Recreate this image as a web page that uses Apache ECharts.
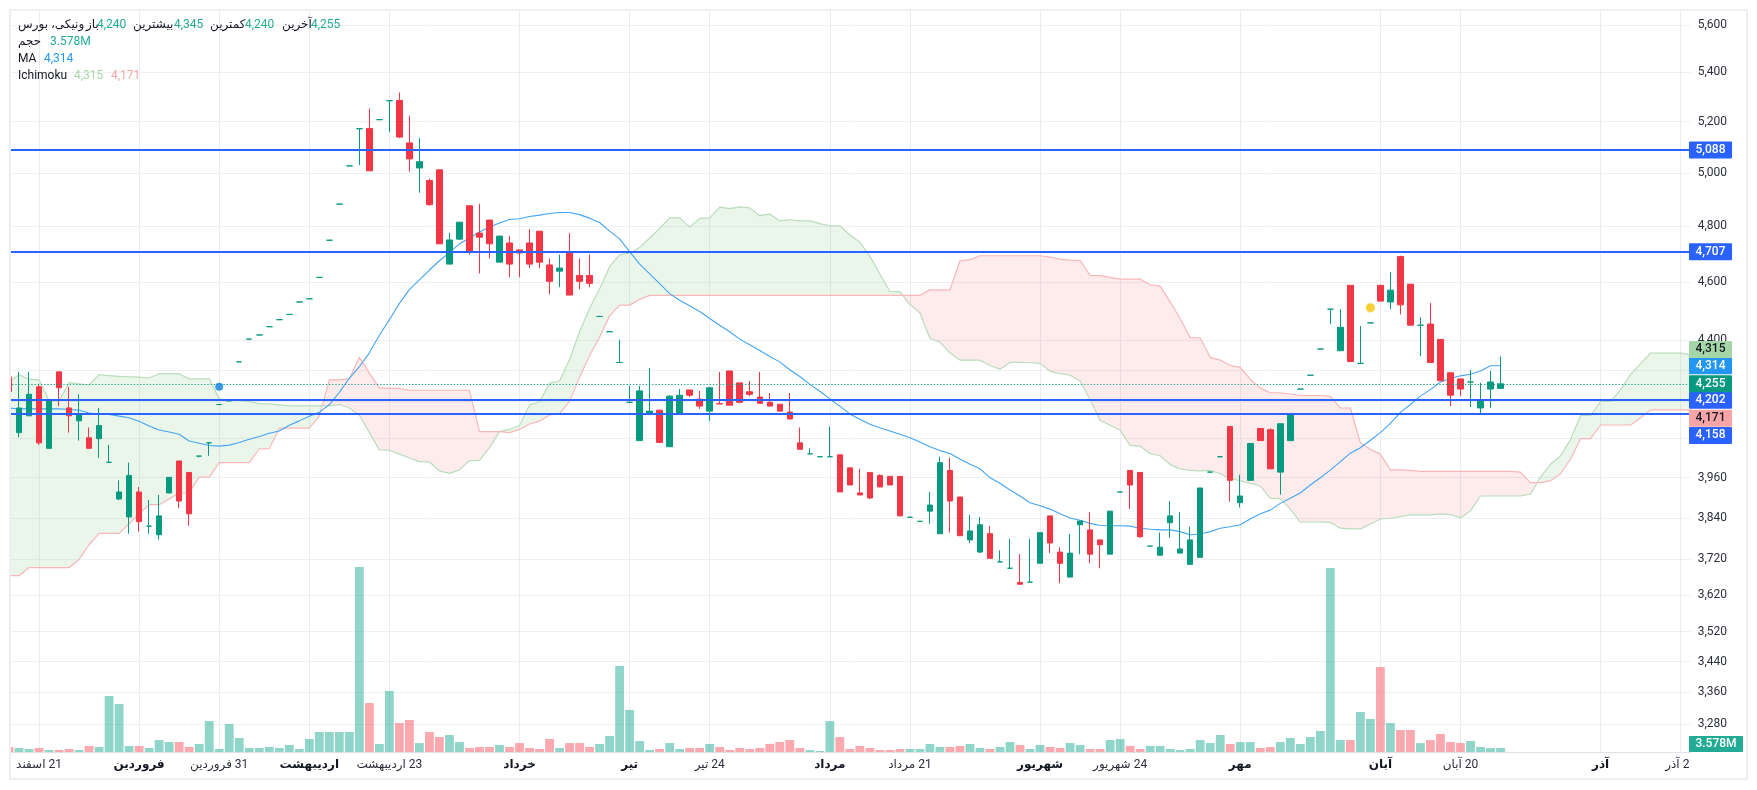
<!DOCTYPE html>
<html>
<head>
<meta charset="utf-8">
<title>ونیکی</title>
<script src="https://cdn.jsdelivr.net/npm/echarts@6/dist/echarts.min.js"></script>
<style>
    html, body { margin: 0; padding: 0; background: #fff; }
    #main { width: 1757px; height: 790px; direction: rtl; }
</style>
</head>
<body>
<div id="main"></div>
<script>
// candles
var opens = [4277,4099,4152,4245,4050,4294,4177,4136,4083,4080,
    4007,3896,3843,3917,3816,3791,3914,4011,3976,4026,
    4067,4188,4200,4327,4403,4417,4445,4469,4487,4530,
    4541,4616,4749,4882,5027,5172,5173,5208,5284,5285,
    5116,5019,4971,5012,4663,4753,4876,4775,4823,4670,
    4739,4714,4739,4782,4660,4638,4707,4623,4623,4480,
    4428,4325,4195,4074,4161,4170,4055,4161,4235,4205,
    4167,4191,4297,4258,4229,4212,4195,4189,4164,4067,
    4033,4024,4024,4030,3990,3914,3976,3967,3964,3964,
    3842,3830,3860,3794,3982,3902,3776,3741,3794,3713,
    3695,3655,3656,3709,3846,3741,3670,3820,3805,3776,
    3735,3917,3982,3976,3758,3732,3826,3738,3706,3726,
    3977,4024,4118,3885,3952,4112,4108,3977,4074,4238,
    4283,4370,4505,4364,4588,4322,4458,4588,4530,4690,
    4592,4450,4454,4402,4291,4271,4261,4177,4238,4240];
var highs = [4277,4294,4294,4255,4202,4294,4245,4221,4115,4177,
    4061,3952,4006,3932,3893,3908,3961,4011,3976,4026,
    4067,4188,4200,4327,4403,4417,4445,4469,4487,4530,
    4541,4616,4749,4882,5027,5172,5252,5208,5284,5317,
    5224,5135,4978,5012,4775,4815,4876,4883,4823,4764,
    4764,4714,4789,4782,4683,4697,4775,4683,4697,4480,
    4428,4401,4248,4248,4307,4170,4218,4238,4235,4232,
    4245,4294,4297,4258,4264,4294,4225,4189,4225,4115,
    4050,4024,4118,4030,3990,3987,3976,3970,3964,3964,
    3842,3830,3917,4024,4021,3902,3849,3843,3817,3746,
    3779,3735,3779,3797,3846,3755,3794,3831,3857,3776,
    3860,3917,3982,3976,3758,3797,3890,3857,3814,3929,
    3977,4024,4118,3969,4065,4112,4112,4127,4158,4238,
    4283,4370,4505,4505,4588,4447,4458,4588,4634,4693,
    4592,4477,4526,4402,4291,4271,4300,4258,4297,4345];
var lows = [4230,4084,4152,4061,4050,4183,4099,4074,4050,4021,
    4007,3893,3794,3800,3794,3777,3914,3869,3817,4022,
    4027,4188,4200,4327,4403,4417,4445,4469,4487,4530,
    4541,4616,4749,4882,5027,5030,5008,5208,5158,5135,
    5005,4925,4876,4736,4663,4750,4697,4630,4683,4670,
    4616,4616,4649,4649,4557,4581,4554,4574,4581,4480,
    4428,4325,4195,4074,4161,4068,4055,4161,4212,4174,
    4136,4190,4186,4192,4215,4192,4183,4167,4142,4047,
    4033,4024,4024,3917,3938,3908,3896,3932,3938,3846,
    3842,3830,3823,3794,3797,3788,3767,3738,3723,3713,
    3695,3650,3656,3709,3738,3653,3670,3735,3709,3695,
    3735,3917,3866,3782,3758,3732,3782,3738,3706,3726,
    3977,4024,3888,3871,3952,4074,3987,3909,4074,4238,
    4283,4370,4454,4364,4328,4322,4458,4533,4505,4487,
    4450,4346,4325,4265,4183,4215,4180,4158,4177,4240];
var closes = [4230,4177,4221,4067,4202,4242,4152,4158,4050,4121,
    4007,3917,3967,3829,3816,3846,3961,3890,3852,4026,
    4067,4188,4200,4327,4403,4417,4445,4469,4487,4530,
    4541,4616,4749,4882,5027,5172,5008,5208,5284,5139,
    5054,5043,4880,4736,4750,4815,4710,4760,4736,4764,
    4663,4703,4663,4670,4602,4649,4554,4602,4595,4480,
    4428,4325,4195,4232,4167,4068,4215,4218,4218,4183,
    4242,4190,4186,4195,4221,4192,4183,4167,4142,4047,
    4033,4024,4024,3917,3938,3908,3899,3932,3938,3846,
    3842,3830,3878,4006,3890,3788,3802,3820,3723,3713,
    3695,3650,3656,3797,3767,3709,3738,3831,3735,3762,
    3860,3917,3938,3785,3758,3755,3846,3750,3776,3929,
    3977,4024,3952,3905,4065,4074,3987,4127,4158,4238,
    4283,4370,4505,4443,4328,4322,4458,4533,4571,4520,
    4450,4450,4325,4265,4218,4238,4261,4199,4261,4255];
// volume in millions
var volumes = [4.5,3.6,2.7,3.6,1.8,1.8,2.7,1.8,5.4,4.5,
    50.1,42.9,5.4,5.4,3.6,10.7,8.9,8.9,4.5,7.2,
    27.7,2.7,25,12.5,3.6,3.6,4.5,3.6,6.3,2.7,
    11.6,17.9,17.9,17.9,17.9,165.5,43.8,7.2,54.6,25.9,
    28.6,8,17.9,13.4,15.2,8.9,3.6,4.5,4.5,6.3,
    4.5,8,3.6,2.7,11.6,3.6,8,8,4.5,7.2,
    14.3,76.9,37.6,9.8,1.8,2.7,8,2.7,3.6,3.6,
    7.2,4.5,1.8,3.6,2.7,3.6,7.2,8.9,10.7,3.6,
    1.8,0.9,27.7,13.4,2.7,5.4,3.6,1.8,1.8,2.7,
    2.7,2.7,7.2,4.5,4.5,5.4,7.2,3.6,2.7,4.5,
    8.9,6.3,2.7,6.3,4.5,3.6,8,6.3,2.7,2.7,
    10.7,11.6,5.4,2.7,5.4,5.4,2.7,1.8,2.7,10.7,
    8,15.2,7.2,8.9,8.9,3.6,4.5,8.9,12.5,7.2,
    13.4,18.8,164.6,10.7,10.7,35.8,29.5,76,25.9,19.7,
    19.7,8,10.7,16.1,8.9,8,9.8,4.5,3.6,3.578];
var maValues = [4177,4174,4174,4174,4174,4174,4172,4170,4161,4158,
    4156,4151,4146,4135,4120,4107,4101,4094,4073,4066,
    4059,4057,4060,4068,4078,4087,4097,4104,4122,4136,
    4151,4163,4188,4227,4273,4311,4357,4416,4469,4525,
    4573,4607,4642,4675,4704,4736,4757,4779,4797,4812,
    4825,4828,4836,4841,4847,4851,4851,4843,4830,4814,
    4782,4754,4708,4663,4628,4594,4559,4536,4517,4497,
    4473,4450,4428,4403,4384,4365,4345,4327,4301,4279,
    4253,4231,4206,4183,4158,4141,4125,4114,4104,4094,
    4083,4070,4055,4043,4034,4017,4001,3987,3960,3943,
    3923,3905,3885,3876,3866,3852,3840,3833,3824,3818,
    3817,3817,3816,3810,3807,3805,3805,3800,3791,3793,
    3800,3810,3814,3820,3837,3852,3863,3883,3898,3914,
    3938,3960,3983,4009,4035,4052,4075,4099,4128,4163,
    4188,4215,4236,4261,4272,4281,4286,4297,4314,4314];
// ichimoku spans run 19 bars past the last candle
var spanA = [4260,4285,4270,4268,4201,4199,4259,4255,4251,4285,
    4282,4279,4278,4277,4274,4288,4288,4288,4271,4271,
    4271,4207,4201,4201,4198,4191,4190,4187,4184,4184,
    4184,4184,4184,4188,4177,4154,4099,4045,4044,4032,
    4020,4009,4008,3981,3973,3984,4012,4013,4052,4102,
    4109,4122,4186,4197,4257,4264,4335,4428,4507,4576,
    4654,4697,4702,4723,4757,4792,4831,4831,4797,4829,
    4831,4871,4865,4872,4868,4839,4845,4820,4824,4820,
    4820,4810,4802,4802,4768,4742,4691,4628,4567,4566,
    4521,4493,4406,4393,4357,4333,4333,4333,4315,4303,
    4325,4325,4324,4322,4296,4288,4283,4264,4204,4138,
    4122,4107,4059,4057,4034,4027,4000,3987,3982,3981,
    3982,3972,3957,3951,3943,3935,3898,3897,3866,3828,
    3828,3828,3827,3810,3808,3808,3822,3837,3839,3844,
    3849,3849,3849,3852,3850,3840,3861,3905,3905,3905,
    3905,3905,3911,3962,4001,4027,4078,4153,4153,4198,
    4198,4236,4286,4321,4356,4356,4356,4356,4350];
var spanB = [3674,3674,3697,3697,3697,3697,3697,3720,3762,3795,
    3795,3795,3823,3852,3879,3879,3896,3914,3914,3962,
    3962,4006,4006,4006,4006,4048,4049,4113,4113,4113,
    4113,4151,4268,4268,4272,4342,4290,4241,4241,4240,
    4234,4234,4234,4234,4234,4234,4234,4102,4102,4102,
    4099,4109,4126,4135,4155,4158,4199,4276,4348,4409,
    4482,4519,4519,4539,4553,4553,4553,4553,4553,4553,
    4553,4553,4553,4553,4553,4553,4553,4553,4553,4553,
    4553,4553,4553,4553,4553,4553,4553,4553,4553,4553,
    4553,4553,4572,4572,4572,4675,4679,4693,4693,4693,
    4693,4693,4693,4693,4688,4681,4677,4676,4623,4622,
    4616,4610,4610,4610,4590,4585,4530,4473,4408,4407,
    4342,4333,4315,4309,4270,4241,4226,4226,4222,4217,
    4217,4217,4214,4177,4177,4067,4047,4032,3984,3984,
    3982,3979,3979,3979,3979,3979,3979,3979,3979,3979,
    3979,3977,3945,3945,3951,3972,4017,4080,4080,4123,
    4123,4123,4123,4146,4171,4171,4171,4171,4171];
var levels = [5088, 4707, 4202, 4158];
var lastPrice = 4255;
var dividendMark = [21, 4245];
var earningsMark = [136, 4510];
var priceLabels = [5600,5400,5200,5000,4800,4600,4400,3960,3840,3720,3620,3520,3440,3360,3280];
var priceGrid = [5600,5400,5200,5000,4800,4600,4400,4300,4200,4080,3960,3840,3720,3620,3520,3440,3360,3280];
var tags = [
    {value: 5088, text: '5,088', bg: '#2962ff', fg: '#fff', shift: 0},
    {value: 4707, text: '4,707', bg: '#2962ff', fg: '#fff', shift: 0},
    {value: 4158, text: '4,158', bg: '#2962ff', fg: '#fff', shift: 21.5},
    {value: 4171, text: '4,171', bg: '#f9a5a8', fg: '#131722', shift: 8.5},
    {value: 4202, text: '4,202', bg: '#2962ff', fg: '#fff', shift: 0},
    {value: 4255, text: '4,255', bg: '#089981', fg: '#fff', shift: 0},
    {value: 4314, text: '4,314', bg: '#2196f3', fg: '#fff', shift: 0},
    {value: 4315, text: '4,315', bg: '#a5d6a7', fg: '#131722', shift: -16}
];
var timeLabels = {3:'21 اسفند', 13:'فروردین', 21:'31 فروردین', 30:'اردیبهشت', 38:'23 اردیبهشت',
    51:'خرداد', 62:'تیر', 70:'24 تیر', 82:'مرداد', 90:'21 مرداد', 103:'شهریور', 111:'24 شهریور',
    123:'مهر', 137:'آبان', 145:'20 آبان', 159:'آذر', 167:'24 آذر'};
var monthStarts = [13, 30, 51, 62, 82, 103, 123, 137, 159];

var fontName = 'Roboto, "DejaVu Sans", sans-serif';
var tagLeft = 1689;
var slots = [];
for (var i = 0; i < spanA.length; i++) slots.push(i);

var candleData = opens.map(function (o, i) { return [o, closes[i], lows[i], highs[i]]; });
var volumeData = volumes.map(function (v, i) {
    return {value: v, itemStyle: {color: closes[i] < opens[i] ? 'rgba(247,82,95,0.5)' : 'rgba(34,171,148,0.5)'}};
});

function hasLabel(i) { return timeLabels[i] !== undefined; }

// fills between the two ichimoku spans, split where they cross
function renderCloud(params, api) {
    var children = [];
    var up = [], down = [], current = null;
    function flush() {
        if (up.length > 1) {
            children.push({
                type: 'polygon',
                shape: {points: up.concat(down.slice().reverse())},
                style: {fill: current ? 'rgba(76,175,80,0.115)' : 'rgba(242,54,69,0.1)'},
                silent: true
            });
        }
        up = []; down = [];
    }
    for (var i = 0; i < spanA.length; i++) {
        var a = api.coord([i, spanA[i]]), b = api.coord([i, spanB[i]]);
        var green = spanA[i] >= spanB[i];
        if (current !== null && green !== current) {
            var pa = api.coord([i - 1, spanA[i - 1]]), pb = api.coord([i - 1, spanB[i - 1]]);
            var d0 = pa[1] - pb[1], d1 = a[1] - b[1], t = d0 / (d0 - d1);
            var cross = [pa[0] + (a[0] - pa[0]) * t, pa[1] + (a[1] - pa[1]) * t];
            up.push(cross); down.push(cross);
            flush();
            up.push(cross); down.push(cross);
        }
        current = green;
        up.push(a); down.push(b);
    }
    flush();
    return {type: 'group', children: children};
}

function renderTag(params, api) {
    var tag = tags[params.dataIndex];
    var y = api.coord([0, tag.value])[1] + tag.shift;
    return {
        type: 'group',
        children: [
            {type: 'rect', shape: {x: tagLeft, y: y - 8.5, width: 43, height: 17, r: 1}, style: {fill: tag.bg}},
            {type: 'text', style: {x: tagLeft + 21.5, y: y, text: tag.text, fill: tag.fg, align: 'center',
                verticalAlign: 'middle', font: '500 12px ' + fontName}}
        ]
    };
}

function renderVolumeTag(params, api) {
    var y = api.coord([0, 0])[1];
    return {
        type: 'group',
        children: [
            {type: 'rect', shape: {x: tagLeft, y: y - 16, width: 54, height: 16, r: 1}, style: {fill: '#22ab94'}},
            {type: 'text', style: {x: tagLeft + 27, y: y - 8, text: '3.578M', fill: '#fff', align: 'center',
                verticalAlign: 'middle', font: '500 12px ' + fontName}}
        ]
    };
}

function legendText(x, y, text, color) {
    return {type: 'text', left: x, top: y - 7, z: 70,
        style: {text: text, fill: color, font: '12px ' + fontName, lineHeight: 16}};
}

var chart = echarts.init(document.getElementById('main'), null, {renderer: 'canvas'});
chart.setOption({
    animation: false,
    backgroundColor: '#fff',
    textStyle: {fontFamily: fontName},
    grid: [
        {left: 9, top: 10.8, width: 1681.7, height: 742},
        {left: 9, top: 10, width: 1681.7, height: 742}
    ],
    xAxis: [{
        type: 'category',
        gridIndex: 1,
        data: slots,
        boundaryGap: false,
        axisLine: {show: true, lineStyle: {color: '#e0e0ea', width: 1}},
        axisTick: {show: false},
        splitLine: {show: true, interval: function (i) { return hasLabel(i); }, lineStyle: {color: '#ececf0', width: 1}},
        axisLabel: {
            interval: function (i) { return hasLabel(i); },
            margin: 7,
            fontSize: 12,
            color: '#2b2f3a',
            hideOverlap: false,
            formatter: function (v, i) {
                var t = timeLabels[i] || '';
                return monthStarts.indexOf(i) >= 0 ? '{m|' + t + '}' : t;
            },
            rich: {m: {fontWeight: 'bold', fontSize: 12, color: '#131722'}}
        }
    }, {
        type: 'category',
        gridIndex: 0,
        data: slots,
        boundaryGap: false,
        show: false
    }],
    yAxis: [{
        type: 'log',
        gridIndex: 0,
        position: 'right',
        min: 3208.4,
        max: 5660.3,
        axisLine: {show: false},
        axisTick: {show: false, customValues: priceGrid},
        splitLine: {show: true, lineStyle: {color: '#f0f0f3', width: 1}},
        axisLabel: {
            customValues: priceLabels,
            margin: 7,
            fontSize: 12,
            color: '#2b2f3a',
            formatter: function (v) { return Math.round(v).toLocaleString('en-US'); }
        }
    }, {
        type: 'value',
        gridIndex: 1,
        min: 0,
        max: 663.7,
        show: false,
        splitLine: {show: false}
    }],
    graphic: [
        {type: 'rect', z: 50, shape: {x: 0, y: 0, width: 10, height: 790}, style: {fill: '#fff'}, silent: true},
        {type: 'rect', z: 50, shape: {x: 1689, y: 753, width: 57, height: 25}, style: {fill: '#fff'}, silent: true},
        {type: 'rect', z: 60, shape: {x: 10, y: 10, width: 1737, height: 769}, style: {fill: 'none', stroke: '#eeeef3', lineWidth: 2}, silent: true},
        legendText(18, 24, 'ونیکی، بورس', '#131722'),
        legendText(86, 24, 'باز', '#131722'),
        legendText(97, 24, '4,240', '#22ab94'),
        legendText(133, 24, 'بیشترین', '#131722'),
        legendText(174, 24, '4,345', '#22ab94'),
        legendText(210, 24, 'کمترین', '#131722'),
        legendText(245, 24, '4,240', '#22ab94'),
        legendText(282, 24, 'آخرین', '#131722'),
        legendText(311, 24, '4,255', '#22ab94'),
        legendText(18, 41, 'حجم', '#131722'),
        legendText(50, 41, '3.578M', '#22ab94'),
        legendText(18, 58, 'MA', '#131722'),
        legendText(44, 58, '4,314', '#2196f3'),
        legendText(18, 75, 'Ichimoku', '#131722'),
        legendText(74, 75, '4,315', '#a5d6a7'),
        legendText(111, 75, '4,171', '#f9a5a8')
    ],
    series: [{
        name: 'Cloud',
        type: 'custom',
        xAxisIndex: 1,
        renderItem: renderCloud,
        data: [[0]],
        z: 1,
        clip: true,
        silent: true
    }, {
        name: 'Span A',
        type: 'line',
        xAxisIndex: 1,
        data: spanA,
        showSymbol: false,
        z: 2,
        lineStyle: {color: '#b9dcba', width: 1.2}
    }, {
        name: 'Span B',
        type: 'line',
        xAxisIndex: 1,
        data: spanB,
        showSymbol: false,
        z: 2,
        lineStyle: {color: '#f9b6b8', width: 1.2}
    }, {
        name: 'Volume',
        type: 'bar',
        xAxisIndex: 0,
        yAxisIndex: 1,
        data: volumeData,
        barWidth: 8.8,
        z: 2
    }, {
        name: 'MA',
        type: 'line',
        xAxisIndex: 1,
        data: maValues,
        showSymbol: false,
        z: 3,
        lineStyle: {color: '#42a5f5', width: 1.1}
    }, {
        name: 'Price',
        type: 'candlestick',
        xAxisIndex: 1,
        data: candleData,
        barWidth: 6,
        z: 4,
        itemStyle: {
            color: '#089981', color0: '#f23645',
            borderColor: '#089981', borderColor0: '#f23645', borderColorDoji: '#089981',
            borderWidth: 1
        },
        markLine: {
            silent: true,
            symbol: 'none',
            animation: false,
            label: {show: false},
            data: levels.map(function (v) {
                return {yAxis: v, lineStyle: {color: '#2962ff', width: 2, type: 'solid'}};
            }).concat([{yAxis: lastPrice, lineStyle: {color: '#089981', width: 1, type: [1.2, 2]}}])
        }
    }, {
        name: 'Dividend',
        type: 'scatter',
        xAxisIndex: 1,
        data: [dividendMark],
        symbolSize: 8,
        z: 5,
        itemStyle: {color: '#0a7fe0'}
    }, {
        name: 'Earnings',
        type: 'scatter',
        xAxisIndex: 1,
        data: [earningsMark],
        symbolSize: 9,
        z: 5,
        itemStyle: {color: '#f5c400', borderColor: '#fbe58a', borderWidth: 1}
    }, {
        name: 'Tags',
        type: 'custom',
        xAxisIndex: 1,
        renderItem: renderTag,
        data: tags.map(function (t) { return [0, t.value]; }),
        z: 40,
        clip: false,
        silent: true
    }, {
        name: 'Volume tag',
        type: 'custom',
        xAxisIndex: 0,
        yAxisIndex: 1,
        renderItem: renderVolumeTag,
        data: [[0, 3.578]],
        z: 40,
        clip: false,
        silent: true
    }]
});
</script>
</body>
</html>
